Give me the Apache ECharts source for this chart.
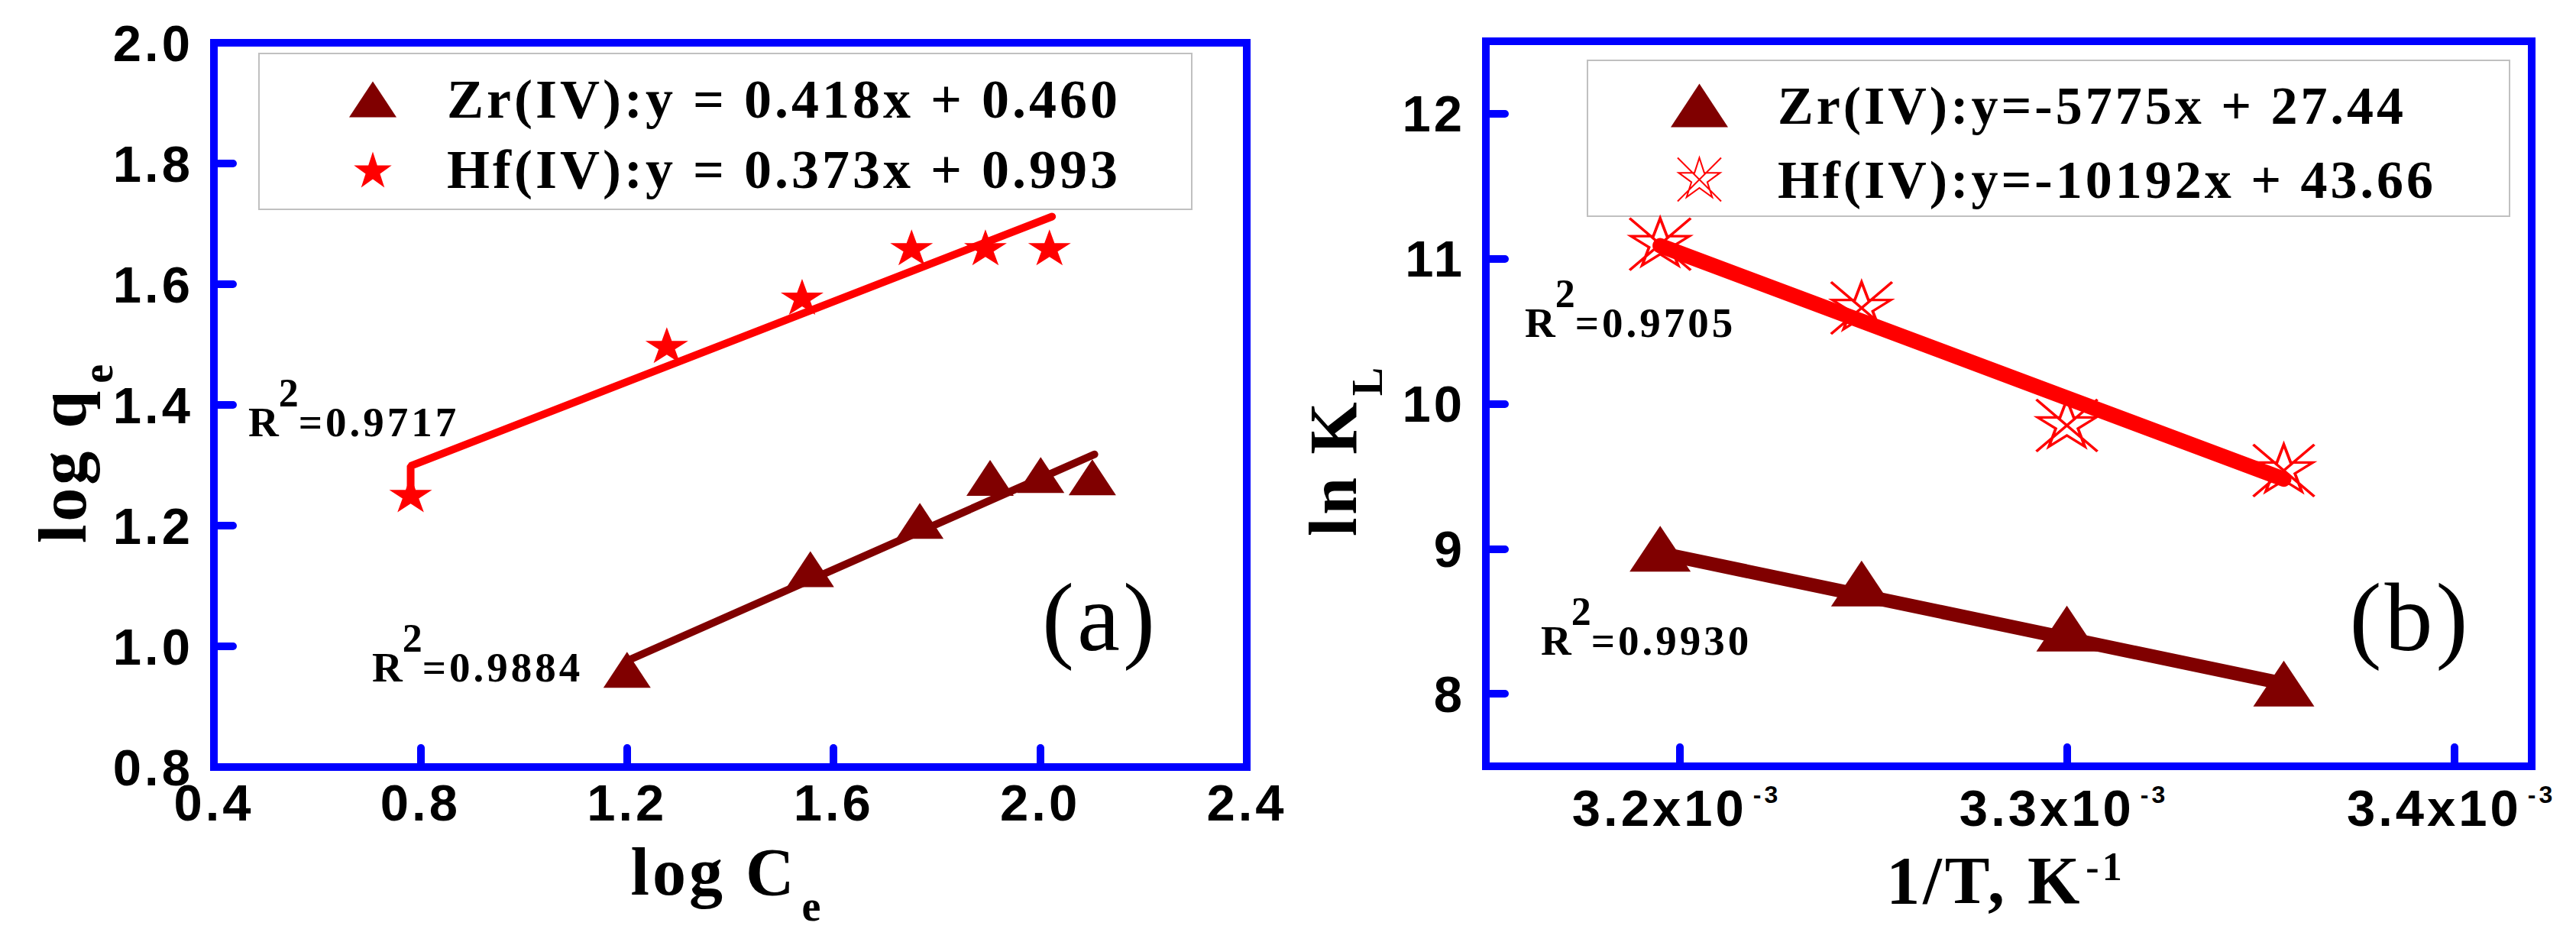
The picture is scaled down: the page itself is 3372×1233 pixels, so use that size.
<!DOCTYPE html>
<html><head><meta charset="utf-8">
<script src="https://cdn.jsdelivr.net/npm/echarts@6/dist/echarts.min.js"></script>
<style>
html,body{margin:0;padding:0;background:#fff;}
#c{width:3372px;height:1233px;}
#c svg text{letter-spacing:4px;}
</style></head><body><div id="c"></div>
<script>
// ---------- Panel (a): Freundlich plot ----------
const logCe_Zr = [1.20, 1.555, 1.767, 1.903, 2.001, 2.101];
const logqe_Zr = [0.961, 1.128, 1.208, 1.279, 1.284, 1.280];
const logCe_Hf = [0.781, 1.277, 1.539, 1.751, 1.894, 2.018];
const logqe_Hf = [1.252, 1.499, 1.579, 1.661, 1.661, 1.661];
const fitA_Zr_x = [1.20, 2.105];
const fitA_Zr_y = [0.976, 1.318];
const fitA_Hf_x = [0.781, 0.781, 2.023];
const fitA_Hf_y = [1.26, 1.299, 1.712];
const xTicksA = [0.4, 0.8, 1.2, 1.6, 2.0, 2.4];
const yTicksA = [0.8, 1.0, 1.2, 1.4, 1.6, 1.8, 2.0];
const legendA = ['Zr(IV):y = 0.418x + 0.460', 'Hf(IV):y = 0.373x + 0.993'];
const r2A = ['0.9717', '0.9884'];

// ---------- Panel (b): van't Hoff plot ----------
const invT = [0.003195, 0.003247, 0.003300, 0.003356];
const lnKL_Zr = [9.00, 8.76, 8.45, 8.07];
const lnKL_Hf = [11.10, 10.66, 9.85, 9.54];
const fitB_x = [0.003195, 0.003356];
const fitB_Zr_y = [8.97, 8.07];
const fitB_Hf_y = [11.09, 9.48];
const xTicksB = [0.0032, 0.0033, 0.0034];
const yTicksB = [8, 9, 10, 11, 12];
const legendB = ['Zr(IV):y=-5775x + 27.44', 'Hf(IV):y=-10192x + 43.66'];
const r2B = ['0.9705', '0.9930'];

const SERIF = '"Liberation Serif", "Times New Roman", serif';
const SANS = '"Liberation Sans", Arial, sans-serif';
const BLUE = '#0000ff', RED = '#ff0000', WINE = '#800000';
const STAR = 'path://M50 0 L61.2 34.5 L97.6 34.5 L68.2 55.9 L79.4 90.5 L50 69.1 L20.6 90.5 L31.8 55.9 L2.4 34.5 L38.8 34.5 Z';
const STARX = 'path://M50 0 L61.2 34.5 L97.6 34.5 L68.2 55.9 L79.4 90.5 L50 69.1 L20.6 90.5 L31.8 55.9 L2.4 34.5 L38.8 34.5 Z M0 0 L100 100 M100 0 L0 100';

const zip = (a, b) => a.map((v, i) => [v, b[i]]);

const tickCfg = (vals) => ({show: true, inside: true, length: 25, customValues: vals,
  lineStyle: {color: BLUE, width: 10, cap: 'round'}});
const labelBase = {fontSize: 67, fontWeight: 'bold', fontFamily: SANS, color: '#000'};
const titleT = {fontSize: 88, fontWeight: 'bold', fontFamily: SERIF, color: '#000', lineHeight: 88, verticalAlign: 'top'};
const titleSub = (padL) => ({fontSize: 56, fontWeight: 'bold', fontFamily: SERIF, color: '#000', lineHeight: 56, verticalAlign: 'top', padding: [61, 0, 0, padL]});

// R^2 annotations as title components (rich text); baseline = top + 83
function r2Title(left, baseline, val) {
  return {text: '{b|R}{s|2}{b|=' + val + '}', left: left, top: baseline - 83, padding: 0, itemGap: 0,
    textStyle: {rich: {
      b: {fontSize: 55, fontWeight: 'bold', fontFamily: SERIF, color: '#000', lineHeight: 128, verticalAlign: 'middle'},
      s: {fontSize: 52, fontWeight: 'bold', fontFamily: SERIF, color: '#000', lineHeight: 52, verticalAlign: 'top'}
    }}};
}

const chart = echarts.init(document.getElementById('c'), null, {renderer: 'svg'});
const option = {
  animation: false,
  backgroundColor: '#fff',
  title: [
    r2Title(325, 571, r2A[0]),
    r2Title(487, 892, r2A[1]),
    r2Title(1996, 441, r2B[0]),
    r2Title(2017, 857, r2B[1])
  ],
  grid: [
    {left: 280, top: 56, width: 1352, height: 948, show: true, borderColor: BLUE, borderWidth: 10, backgroundColor: 'transparent'},
    {left: 1945, top: 54, width: 1369, height: 949, show: true, borderColor: BLUE, borderWidth: 10, backgroundColor: 'transparent'}
  ],
  xAxis: [
    {gridIndex: 0, type: 'value', min: 0.4, max: 2.4,
      axisLine: {show: false}, splitLine: {show: false}, axisTick: tickCfg(xTicksA),
      axisLabel: Object.assign({customValues: xTicksA, margin: 13, formatter: v => v.toFixed(1)}, labelBase),
      name: '{t|log C}{sub|e}', nameLocation: 'middle', nameGap: 93,
      nameTextStyle: {rich: {t: titleT, sub: titleSub(18)}}},
    {gridIndex: 1, type: 'value', min: 0.00315, max: 0.00342,
      axisLine: {show: false}, splitLine: {show: false}, axisTick: tickCfg(xTicksB),
      axisLabel: {customValues: xTicksB, margin: 21,
        formatter: v => '{n|' + (v * 1000).toFixed(1) + 'x10}{sup|-3}',
        rich: {
          n: {fontSize: 67, fontWeight: 'bold', fontFamily: SANS, color: '#000', lineHeight: 67, verticalAlign: 'bottom'},
          sup: {fontSize: 32, fontWeight: 'bold', fontFamily: SANS, color: '#000', lineHeight: 32, verticalAlign: 'top', padding: [0, 0, 46, 24]}
        }},
      name: '{t|1/T, K}{sup|-1}', nameLocation: 'middle', nameGap: 105,
      nameTextStyle: {rich: {
        t: {fontSize: 88, fontWeight: 'bold', fontFamily: SERIF, color: '#000', lineHeight: 88, verticalAlign: 'bottom'},
        sup: {fontSize: 52, fontWeight: 'bold', fontFamily: SERIF, color: '#000', lineHeight: 52, verticalAlign: 'top', padding: [0, 0, 53, 20]}
      }}}
  ],
  yAxis: [
    {gridIndex: 0, type: 'value', min: 0.8, max: 2.0,
      axisLine: {show: false}, splitLine: {show: false}, axisTick: tickCfg(yTicksA),
      axisLabel: Object.assign({customValues: yTicksA, margin: 27, formatter: v => v.toFixed(1)}, labelBase),
      name: '{t|log q}{sub|e}', nameLocation: 'middle', nameGap: 142,
      nameTextStyle: {padding: [0, 116, 0, 0], rich: {t: titleT, sub: titleSub(18)}}},
    {gridIndex: 1, type: 'value', min: 7.5, max: 12.5,
      axisLine: {show: false}, splitLine: {show: false}, axisTick: tickCfg(yTicksB),
      axisLabel: Object.assign({customValues: yTicksB, margin: 27, formatter: v => String(v)}, labelBase),
      name: '{t|ln K}{sub|L}', nameLocation: 'middle', nameGap: 156,
      nameTextStyle: {padding: [0, 116, 0, 0], rich: {t: titleT, sub: titleSub(14)}}}
  ],
  legend: [
    {data: legendA, orient: 'vertical', left: 457, top: 94, padding: 0,
      itemWidth: 62, itemHeight: 47, itemGap: 20, selectedMode: false,
      formatter: n => '{t|' + n + '}',
      textStyle: {rich: {t: {fontSize: 72, fontWeight: 'bold', fontFamily: SERIF, color: '#000', lineHeight: 72, padding: [0, 0, 0, 61]}}}},
    {data: legendB, orient: 'vertical', left: 2187, top: 103, padding: 0,
      itemWidth: 75, itemHeight: 57, itemGap: 27, selectedMode: false,
      formatter: n => '{t|' + n + '}',
      textStyle: {rich: {t: {fontSize: 70, fontWeight: 'bold', fontFamily: SERIF, color: '#000', lineHeight: 70, padding: [0, 0, 0, 60]}}}}
  ],
  graphic: [
    {type: 'rect', z: 1, shape: {x: 339, y: 70, width: 1221, height: 204}, style: {fill: 'none', stroke: '#c0c0c0', lineWidth: 2}},
    {type: 'rect', z: 1, shape: {x: 2078, y: 79, width: 1207, height: 204}, style: {fill: 'none', stroke: '#c0c0c0', lineWidth: 2}},
    {type: 'text', x: 1440, y: 808, z: 10, style: {legacy: false, text: '(a)', fontSize: 126, fontFamily: SERIF, fontWeight: 'normal', fill: '#000', align: 'center', verticalAlign: 'middle'}},
    {type: 'text', x: 3155, y: 808, z: 10, style: {legacy: false, text: '(b)', fontSize: 126, fontFamily: SERIF, fontWeight: 'normal', fill: '#000', align: 'center', verticalAlign: 'middle'}}
  ],
  series: [
    {type: 'line', xAxisIndex: 0, yAxisIndex: 0, name: 'fitA_Zr', data: zip(fitA_Zr_x, fitA_Zr_y), symbol: 'none', silent: true, z: 2,
      lineStyle: {color: WINE, width: 10, cap: 'round'}},
    {type: 'line', xAxisIndex: 0, yAxisIndex: 0, name: 'fitA_Hf', data: zip(fitA_Hf_x, fitA_Hf_y), symbol: 'none', silent: true, z: 2,
      lineStyle: {color: RED, width: 10, cap: 'round'}},
    {type: 'scatter', xAxisIndex: 0, yAxisIndex: 0, name: legendA[0], data: zip(logCe_Zr, logqe_Zr), symbol: 'triangle', symbolSize: [62, 47], z: 3,
      itemStyle: {color: WINE, opacity: 1}},
    {type: 'scatter', xAxisIndex: 0, yAxisIndex: 0, name: legendA[1], data: zip(logCe_Hf, logqe_Hf), symbol: STAR, symbolSize: [56, 47], z: 3,
      itemStyle: {color: RED, opacity: 1}},
    {type: 'line', xAxisIndex: 1, yAxisIndex: 1, name: 'fitB_Zr', data: zip(fitB_x, fitB_Zr_y), symbol: 'none', silent: true, z: 2,
      lineStyle: {color: WINE, width: 18, cap: 'round'}},
    {type: 'line', xAxisIndex: 1, yAxisIndex: 1, name: 'fitB_Hf', data: zip(fitB_x, fitB_Hf_y), symbol: 'none', silent: true, z: 4,
      lineStyle: {color: RED, width: 20, cap: 'round'}},
    {type: 'scatter', xAxisIndex: 1, yAxisIndex: 1, name: legendB[0], data: zip(invT, lnKL_Zr), symbol: 'triangle', symbolSize: [80, 60], z: 3,
      itemStyle: {color: WINE, opacity: 1}},
    {type: 'scatter', xAxisIndex: 1, yAxisIndex: 1, name: legendB[1], data: zip(invT, lnKL_Hf), symbol: STARX, symbolSize: [80, 68], z: 3,
      itemStyle: {color: 'rgba(0,0,0,0)', borderColor: RED, borderWidth: 3.5, opacity: 1}}
  ]
};
chart.setOption(option);
</script></body></html>
